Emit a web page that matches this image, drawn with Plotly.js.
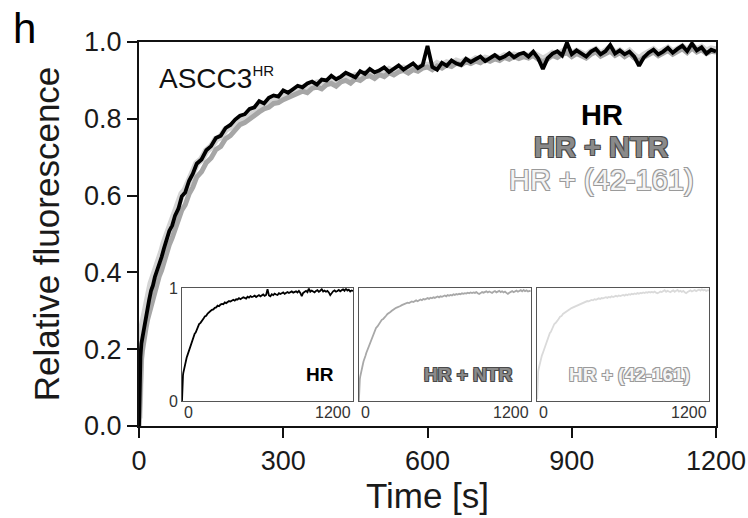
<!DOCTYPE html>
<html>
<head>
<meta charset="utf-8">
<script src="https://cdn.plot.ly/plotly-3.0.1.min.js"></script>
<style>
html,body{margin:0;padding:0;background:#fff;}
#chart{width:748px;height:518px;}
</style>
</head>
<body>
<div id="chart"></div>
<script>
// Time points [s]
const timeS = [0,1,2,3,5,7,9,12,15,18,21,25,29,33,37,42,47,52,57,63,69,75,82,89,96,104,112,120,130,140,150,160,170,180,190,
200,210,220,230,240,250,260,270,280,290,
300,310,320,330,340,350,360,370,380,390,
400,410,420,430,440,450,460,470,480,490,
500,510,520,530,540,550,560,570,580,590,
600,610,620,630,640,650,660,670,680,690,
700,710,720,730,740,750,760,770,780,790,
800,810,820,830,840,850,860,870,880,890,
900,910,920,930,940,950,960,970,980,990,
1000,1010,1020,1030,1040,1050,1060,1070,1080,1090,
1100,1110,1120,1130,1140,1150,1160,1170,1180,1190,
1200];

// Relative fluorescence, HR
const hrVals = [0.00,0.11,0.15,0.18,0.215,0.23,0.25,0.272,0.292,0.31,0.328,0.352,0.366,0.388,0.402,0.422,0.44,0.463,0.482,0.508,0.522,0.548,0.566,0.598,0.608,0.638,0.657,0.683,0.694,0.718,0.729,0.75,0.756,0.776,0.784,
0.798,0.808,0.812,0.826,0.83,0.846,0.84,0.855,0.861,0.858,
0.874,0.868,0.878,0.886,0.882,0.892,0.897,0.889,0.902,0.90,
0.912,0.903,0.91,0.92,0.914,0.908,0.924,0.917,0.93,0.921,
0.926,0.934,0.922,0.931,0.939,0.928,0.936,0.944,0.932,0.94,
0.99,0.935,0.928,0.946,0.938,0.952,0.944,0.94,0.956,0.948,
0.955,0.962,0.95,0.958,0.966,0.957,0.962,0.971,0.96,0.968,
0.972,0.962,0.975,0.958,0.93,0.958,0.97,0.976,0.965,0.998,
0.968,0.978,0.97,0.962,0.975,0.982,0.968,0.976,0.992,0.97,
0.978,0.968,0.975,0.962,0.938,0.96,0.972,0.98,0.968,0.975,
0.985,0.972,0.982,0.99,0.976,0.996,0.978,0.986,0.97,0.98,
0.975];

// Relative fluorescence, HR + NTR
const ntrVals = [0.00,0.07,0.11,0.14,0.172,0.195,0.215,0.238,0.258,0.278,0.292,0.318,0.332,0.355,0.366,0.39,0.405,0.428,0.444,0.472,0.49,0.514,0.532,0.562,0.576,0.604,0.622,0.648,0.662,0.686,0.698,0.72,0.728,0.748,0.756,
0.772,0.785,0.79,0.80,0.812,0.818,0.826,0.83,0.84,0.842,
0.85,0.856,0.86,0.865,0.872,0.868,0.879,0.883,0.878,0.889,
0.892,0.885,0.896,0.90,0.893,0.904,0.90,0.909,0.912,0.905,
0.915,0.91,0.92,0.914,0.922,0.926,0.919,0.928,0.924,0.932,
0.935,0.928,0.938,0.932,0.94,0.936,0.945,0.94,0.948,0.944,
0.95,0.946,0.954,0.95,0.956,0.952,0.96,0.955,0.962,0.957,
0.962,0.958,0.965,0.955,0.948,0.956,0.965,0.96,0.968,0.972,
0.962,0.97,0.964,0.958,0.968,0.974,0.963,0.97,0.976,0.965,
0.972,0.962,0.97,0.958,0.95,0.96,0.968,0.974,0.964,0.97,
0.978,0.968,0.976,0.982,0.972,0.984,0.974,0.98,0.97,0.976,
0.974];

// Relative fluorescence, HR + (42-161)
const fragVals = [0.02,0.15,0.19,0.215,0.245,0.262,0.278,0.298,0.316,0.333,0.348,0.371,0.384,0.405,0.417,0.437,0.453,0.476,0.493,0.52,0.534,0.558,0.575,0.604,0.615,0.642,0.66,0.684,0.694,0.717,0.727,0.747,0.753,0.772,0.779,
0.79,0.80,0.806,0.815,0.824,0.83,0.838,0.845,0.85,0.856,
0.862,0.866,0.872,0.876,0.88,0.886,0.884,0.893,0.896,0.892,
0.902,0.898,0.906,0.91,0.904,0.913,0.91,0.918,0.92,0.914,
0.922,0.918,0.928,0.922,0.93,0.932,0.926,0.935,0.93,0.938,
0.94,0.934,0.944,0.938,0.946,0.942,0.95,0.946,0.953,0.948,
0.956,0.951,0.958,0.955,0.962,0.957,0.964,0.96,0.966,0.962,
0.967,0.962,0.97,0.96,0.955,0.962,0.97,0.965,0.974,0.982,
0.968,0.976,0.97,0.964,0.974,0.98,0.968,0.976,0.985,0.97,
0.977,0.967,0.976,0.964,0.956,0.966,0.974,0.98,0.97,0.976,
0.984,0.974,0.982,0.988,0.978,0.99,0.98,0.986,0.976,0.982,
0.98];

const seriesNames = ['HR', 'HR + NTR', 'HR + (42-161)'];
const xTickVals = [0, 300, 600, 900, 1200];
const yTickVals = [0.0, 0.2, 0.4, 0.6, 0.8, 1.0];
const yTickText = ['0.0', '0.2', '0.4', '0.6', '0.8', '1.0'];
const insetTickText = ['0', '1200'];

const FONT = 'Liberation Sans, Arial, Helvetica, sans-serif';
const cBlack = '#000000', cGray = '#a6a6a6', cLight = '#d4d4d4';

const traces = [
  {x: timeS, y: fragVals, mode: 'lines', line: {color: cLight, width: 7}, xaxis: 'x', yaxis: 'y', name: seriesNames[2]},
  {x: timeS, y: ntrVals, mode: 'lines', line: {color: cGray, width: 5}, xaxis: 'x', yaxis: 'y', name: seriesNames[1]},
  {x: timeS, y: hrVals, mode: 'lines', line: {color: cBlack, width: 3.8}, xaxis: 'x', yaxis: 'y', name: seriesNames[0]},
  {x: timeS, y: hrVals, mode: 'lines', line: {color: '#000', width: 1.8}, xaxis: 'x2', yaxis: 'y2'},
  {x: timeS, y: ntrVals, mode: 'lines', line: {color: '#a8a8a8', width: 1.8}, xaxis: 'x3', yaxis: 'y3'},
  {x: timeS, y: fragVals, mode: 'lines', line: {color: '#dadada', width: 1.8}, xaxis: 'x4', yaxis: 'y4'}
];

function insetX(dom, anchorY) {
  return {domain: dom, anchor: anchorY, range: [0, 1200], showgrid: false, zeroline: false, showline: true, mirror: true,
    linecolor: '#555', linewidth: 1, ticks: '', showticklabels: false, fixedrange: true};
}
function insetY(anchorX, labels) {
  return {domain: [0.064, 0.359], anchor: anchorX, range: [0, 1], showgrid: false, zeroline: false,
    showline: true, mirror: true, linecolor: '#555', linewidth: 1, ticks: '',
    showticklabels: labels, tickvals: [0, 1], ticktext: ['0', '1'],
    tickfont: {family: FONT, size: 16, color: '#333'}, fixedrange: true};
}

const outline = (c) => `-1px -1px 0 ${c}, 1px -1px 0 ${c}, -1px 1px 0 ${c}, 1px 1px 0 ${c}`;

const annotations = [
  {text: 'h', xref: 'paper', yref: 'paper', x: -0.222, y: 1.035, xanchor: 'left', yanchor: 'middle', showarrow: false,
    font: {family: FONT, size: 42, color: '#000'}},
  {text: 'ASCC3<sup><span style="font-size:15px">HR</span></sup>', xref: 'paper', yref: 'paper', x: 0.031, y: 0.905,
    xanchor: 'left', yanchor: 'middle', showarrow: false, font: {family: FONT, size: 28, color: '#111'}},
  {text: seriesNames[0], xref: 'paper', yref: 'paper', x: 0.802, y: 0.81, xanchor: 'center', yanchor: 'middle', showarrow: false,
    font: {family: FONT, size: 29, color: '#000', weight: 'bold'}},
  {text: seriesNames[1], xref: 'paper', yref: 'paper', x: 0.802, y: 0.727, xanchor: 'center', yanchor: 'middle', showarrow: false,
    font: {family: FONT, size: 29, color: '#8a8a8a', weight: 'bold', shadow: outline('#4a4a4a')}},
  {text: seriesNames[2], xref: 'paper', yref: 'paper', x: 0.802, y: 0.641, xanchor: 'center', yanchor: 'middle', showarrow: false,
    font: {family: FONT, size: 29, color: '#f4f4f4', shadow: outline('#9a9a9a')}},
  // inset labels
  {text: seriesNames[0], xref: 'x2 domain', yref: 'paper', x: 0.9, y: 0.135, xanchor: 'right', yanchor: 'middle', showarrow: false,
    font: {family: FONT, size: 19, color: '#000', weight: 'bold'}},
  {text: seriesNames[1], xref: 'x3 domain', yref: 'paper', x: 0.9, y: 0.135, xanchor: 'right', yanchor: 'middle', showarrow: false,
    font: {family: FONT, size: 19, color: '#8a8a8a', weight: 'bold', shadow: outline('#4a4a4a')}},
  {text: seriesNames[2], xref: 'x4 domain', yref: 'paper', x: 0.9, y: 0.135, xanchor: 'right', yanchor: 'middle', showarrow: false,
    font: {family: FONT, size: 19, color: '#f4f4f4', weight: 'bold', shadow: outline('#9a9a9a')}}
];
['x2', 'x3', 'x4'].forEach((ax, i) => {
  annotations.push({text: insetTickText[0], xref: ax, yref: 'y' + (i + 2) + ' domain', x: 0, y: 0, xanchor: 'left', yanchor: 'top',
    yshift: -1, showarrow: false, font: {family: FONT, size: 16, color: '#333'}});
  annotations.push({text: insetTickText[1], xref: ax, yref: 'y' + (i + 2) + ' domain', x: 1200, y: 0, xanchor: 'right', yanchor: 'top',
    yshift: -1, showarrow: false, font: {family: FONT, size: 16, color: '#333'}});
});

const layout = {
  width: 748, height: 518,
  margin: {l: 139, r: 32, t: 42, b: 92},
  paper_bgcolor: '#fff', plot_bgcolor: '#fff',
  showlegend: false,
  font: {family: FONT, color: '#1a1a1a'},
  xaxis: {range: [0, 1200], tickvals: xTickVals, ticks: 'outside', ticklen: 10, tickwidth: 2, tickcolor: '#111',
    showline: true, mirror: true, linecolor: '#111', linewidth: 2, showgrid: false, zeroline: false,
    tickfont: {family: FONT, size: 27, color: '#1a1a1a'},
    title: {text: 'Time [s]', font: {family: FONT, size: 35, color: '#1a1a1a'}, standoff: 8}, fixedrange: true},
  yaxis: {range: [0, 1], tickvals: yTickVals, ticktext: yTickText, ticks: 'outside', ticklen: 10, tickwidth: 2, tickcolor: '#111',
    showline: true, mirror: true, linecolor: '#111', linewidth: 2, showgrid: false, zeroline: false,
    tickfont: {family: FONT, size: 27, color: '#1a1a1a'},
    title: {text: 'Relative fluorescence', font: {family: FONT, size: 35, color: '#1a1a1a'}, standoff: 14}, fixedrange: true},
  xaxis2: insetX([0.0745, 0.371], 'y2'), yaxis2: insetY('x2', true),
  xaxis3: insetX([0.381, 0.679], 'y3'), yaxis3: insetY('x3', false),
  xaxis4: insetX([0.690, 0.988], 'y4'), yaxis4: insetY('x4', false),
  annotations: annotations
};

Plotly.newPlot('chart', traces, layout, {displayModeBar: false, staticPlot: true});
</script>
</body>
</html>
